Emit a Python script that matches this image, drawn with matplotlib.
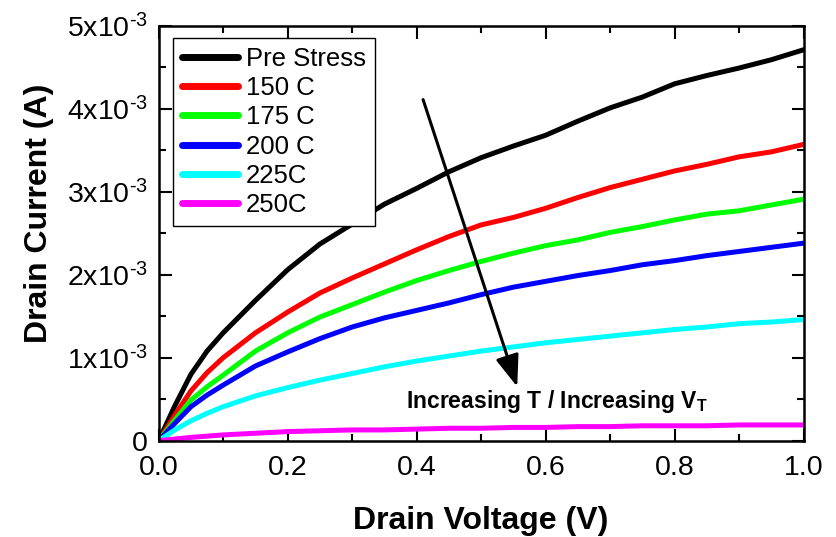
import numpy as np
import matplotlib
matplotlib.use("Agg")
import matplotlib.pyplot as plt

plt.rcParams['font.family'] = ['Liberation Sans', 'DejaVu Sans']
plt.rcParams['mathtext.fontset'] = 'custom'
plt.rcParams['mathtext.rm'] = 'Liberation Sans'
plt.rcParams['mathtext.bf'] = 'Liberation Sans:bold'
plt.rcParams['mathtext.default'] = 'regular'

# Drain voltage (V)
vd = [0, 0.025, 0.05, 0.075, 0.1, 0.15, 0.2, 0.25, 0.3, 0.35, 0.4, 0.45, 0.5,
      0.55, 0.6, 0.65, 0.7, 0.75, 0.8, 0.85, 0.9, 0.95, 1.0]

# Drain current (mA)
id_pre = [0, 0.42, 0.80, 1.08, 1.30, 1.69, 2.06, 2.37, 2.61, 2.85, 3.04, 3.24, 3.41,
          3.55, 3.68, 3.85, 4.01, 4.14, 4.30, 4.40, 4.49, 4.59, 4.71]
id_150 = [0, 0.31, 0.60, 0.82, 1.00, 1.30, 1.55, 1.78, 1.96, 2.13, 2.30, 2.46, 2.60,
          2.69, 2.80, 2.93, 3.05, 3.15, 3.25, 3.33, 3.42, 3.48, 3.57]
id_175 = [0, 0.25, 0.49, 0.65, 0.79, 1.08, 1.30, 1.49, 1.64, 1.79, 1.93, 2.05, 2.16,
          2.26, 2.35, 2.42, 2.51, 2.58, 2.66, 2.73, 2.77, 2.84, 2.91]
id_200 = [0, 0.21, 0.41, 0.55, 0.67, 0.90, 1.07, 1.23, 1.37, 1.48, 1.57, 1.66, 1.76,
          1.85, 1.92, 1.99, 2.05, 2.12, 2.17, 2.23, 2.28, 2.33, 2.38]
id_225 = [0, 0.13, 0.24, 0.33, 0.41, 0.54, 0.64, 0.73, 0.81, 0.89, 0.96, 1.02, 1.08,
          1.13, 1.18, 1.22, 1.26, 1.30, 1.34, 1.37, 1.41, 1.43, 1.46]
id_250 = [0, 0.02, 0.04, 0.055, 0.07, 0.09, 0.11, 0.12, 0.13, 0.13, 0.14, 0.15, 0.15,
          0.16, 0.16, 0.17, 0.17, 0.18, 0.18, 0.18, 0.19, 0.19, 0.19]

labels = ['Pre Stress', '150 C', '175 C', '200 C', '225C', '250C']
colors = ['#000000', '#ff0000', '#00ff00', '#0000ff', '#00ffff', '#ff00ff']
series = [id_pre, id_150, id_175, id_200, id_225, id_250]

yticks = [0, 1e-3, 2e-3, 3e-3, 4e-3, 5e-3]
ytick_labels = ['0'] + [r'%dx10$^{\text{-3}}$' % n for n in range(1, 6)]
xticks = [0.0, 0.2, 0.4, 0.6, 0.8, 1.0]

fig = plt.figure(figsize=(8.37, 5.37), dpi=100)
ax = fig.add_axes([0.1896, 0.1793, 0.7704, 0.7728])

for vals, lab, col in zip(series, labels, colors):
    ax.plot(vd, np.array(vals) * 1e-3, color=col, lw=3.6, label=lab,
            solid_joinstyle='round', solid_capstyle='round')

ax.set_xlim(0, 1.0)
ax.set_ylim(0, 5e-3)
ax.set_xticks(xticks)
ax.set_xticklabels(['%.1f' % x for x in xticks])
ax.set_xticks(np.arange(0.1, 1.0, 0.2), minor=True)
ax.set_yticks(yticks)
ax.set_yticklabels(ytick_labels)
ax.set_yticks(np.arange(0.5e-3, 5e-3, 1e-3), minor=True)

ax.tick_params(which='both', direction='in', top=True, right=True,
               width=1.5, labelsize=20.5)
ax.tick_params(which='major', length=9)
ax.tick_params(which='minor', length=5)
ax.tick_params(axis='x', pad=10)
ax.tick_params(axis='y', pad=8)
for sp in ax.spines.values():
    sp.set_linewidth(1.8)

ax.set_xlabel('Drain Voltage (V)', fontsize=23, fontweight='bold')
ax.set_ylabel('Drain Current (A)', fontsize=23, fontweight='bold')
ax.xaxis.set_label_coords(0.5, -0.158)
ax.yaxis.set_label_coords(-0.162, 0.549)

leg = ax.legend(loc='upper left', bbox_to_anchor=(0.022, 0.970), fontsize=18.5,
                frameon=True, fancybox=False, edgecolor='black', framealpha=1,
                handlelength=2.2, handletextpad=0.3, labelspacing=0.2,
                borderpad=0.35, borderaxespad=0)
leg.get_frame().set_linewidth(1.0)
for line in leg.get_lines():
    line.set_linewidth(5)

ax.annotate('', xy=(0.556, 0.65e-3), xytext=(0.41, 4.11e-3),
            arrowprops=dict(arrowstyle='-|>,head_length=0.97,head_width=0.36',
                            mutation_scale=20, color='black', lw=2.2,
                            shrinkA=0, shrinkB=0))
ax.text(0.383, 0.47e-3, r'Increasing T / Increasing V$_\mathbf{T}$',
        fontsize=16.5, fontweight='bold', ha='left', va='center')

fig.savefig('out.png', dpi=100)
